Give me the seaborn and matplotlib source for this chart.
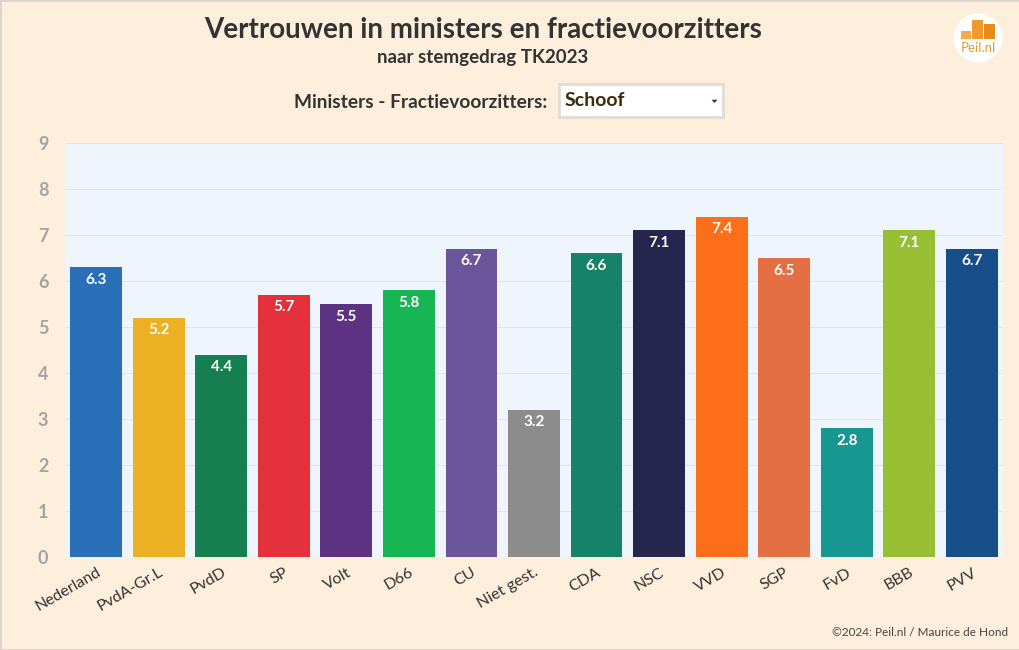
import matplotlib
matplotlib.use("Agg")
import matplotlib.pyplot as plt
import seaborn as sns
import pandas as pd
from matplotlib.patches import Rectangle, Circle, Polygon

parties = ["Nederland", "PvdA-Gr.L", "PvdD", "SP", "Volt", "D66", "CU", "Niet gest.",
           "CDA", "NSC", "VVD", "SGP", "FvD", "BBB", "PVV"]
scores = [6.3, 5.2, 4.4, 5.7, 5.5, 5.8, 6.7, 3.2, 6.6, 7.1, 7.4, 6.5, 2.8, 7.1, 6.7]
colors = ["#2A70B8", "#EBB024", "#167F52", "#E4303A", "#5D3282", "#17B554", "#6B559B",
          "#8C8C8C", "#17826A", "#25254D", "#FD6E1B", "#E36F42", "#189792", "#98BF34", "#174E8A"]
y_ticks = [0, 1, 2, 3, 4, 5, 6, 7, 8, 9]

title = "Vertrouwen in ministers en fractievoorzitters"
subtitle = "naar stemgedrag TK2023"
selector_label = "Ministers - Fractievoorzitters:"
selector_value = "Schoof"
credit = "©2024: Peil.nl / Maurice de Hond"

sns.set_theme(style="white")
plt.rcParams["font.family"] = ["Lato", "DejaVu Sans"]

W, H = 1020, 650
fig = plt.figure(figsize=(W / 100, H / 100), dpi=100)
fig.patch.set_facecolor("#FDEFDC")

def fx(px):
    return px / W

def fy(py):
    return 1 - py / H

ax = fig.add_axes([fx(65), fy(557), fx(1003) - fx(65), fy(143) - fy(557)])
ax.set_facecolor("#EEF5FD")

df = pd.DataFrame({"party": parties, "score": scores})
sns.barplot(data=df, x="party", y="score", hue="party", palette=colors, legend=False,
            width=0.83, saturation=1, linewidth=0, ax=ax)

ax.set_ylim(0, 9)
ax.set_xlim(-0.5, len(parties) - 0.5)
ax.set_yticks(y_ticks)
ax.set_yticklabels([str(t) for t in y_ticks], fontsize=13, fontweight="bold", color="#A3A3A3")
ax.set_xticks(range(len(parties)))
ax.set_xticklabels(parties, rotation=30, ha="right", rotation_mode="anchor",
                   fontsize=11.5, color="#333333")
ax.tick_params(axis="y", length=0, pad=12)
ax.tick_params(axis="x", length=0, pad=6)
ax.set_xlabel("")
ax.set_ylabel("")
for s in ax.spines.values():
    s.set_visible(False)
ax.yaxis.grid(True, color="#DDE6F0", linewidth=0.8)
ax.set_axisbelow(True)

for i, v in enumerate(scores):
    ax.annotate(f"{v:.1f}", (i, v), xytext=(0, -4), textcoords="offset points",
                ha="center", va="top", color="white", fontsize=11, fontweight="bold")

# border
fig.add_artist(Rectangle((0, 0), 1, 1, transform=fig.transFigure, fill=False,
                         edgecolor="#D9D4CC", linewidth=2))

fig.text(fx(483), fy(30), title, ha="center", va="center", fontsize=20,
         fontweight="bold", color="#333333")
fig.text(fx(483), fy(57), subtitle, ha="center", va="center", fontsize=13.5,
         fontweight="bold", color="#333333")
fig.text(fx(547), fy(102), selector_label, ha="right", va="center", fontsize=13.8,
         fontweight="bold", color="#333333")

# dropdown
fig.add_artist(Rectangle((fx(559), fy(117)), fx(723) - fx(559), fy(84) - fy(117),
                         transform=fig.transFigure, facecolor="white",
                         edgecolor="#E3DCD2", linewidth=2))
fig.text(fx(565), fy(101), selector_value, ha="left", va="center", fontsize=14,
         fontweight="bold", color="#3D2B0A")
fig.add_artist(Polygon([(fx(710), fy(99)), (fx(719), fy(99)), (fx(714.5), fy(104))],
                       closed=True, transform=fig.transFigure, facecolor="#333333"))

# logo
lax = fig.add_axes([fx(953), fy(63), fx(50), fy(13) - fy(63)])
lax.set_xlim(0, 50)
lax.set_ylim(50, 0)
lax.set_aspect("equal")
lax.axis("off")
lax.add_patch(Circle((25, 25), 24.5, facecolor="white", edgecolor="none"))
for (x0, x1, top, c) in [(8, 18, 18, "#F2A94A"), (19, 30, 7, "#EE9A2C"), (31, 42, 11, "#E98A1C")]:
    lax.add_patch(Rectangle((x0, top), x1 - x0, 26 - top, facecolor=c, edgecolor="none"))
lax.text(25, 35.5, "Peil.nl", ha="center", va="center", fontsize=9.5, color="#E39A33")

fig.text(fx(1008), fy(632), credit, ha="right", va="center", fontsize=8.5,
         color="#444444")

fig.savefig("out.png", dpi=100, facecolor=fig.get_facecolor())
